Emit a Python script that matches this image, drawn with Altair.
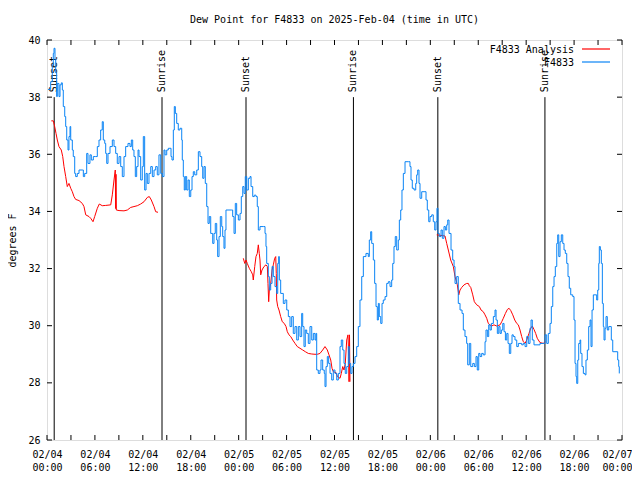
import altair as alt
import pandas as pd

# ---- data (hours since 2025-02-04 00:00 UTC, dew point in degrees F) ----
obs_hours = [0.13, 0.46, 0.66, 0.79, 0.88, 1.00, 1.09, 1.21, 1.29, 1.50, 1.63, 1.79, 1.92, 2.04, 2.22, 2.34, 2.47, 2.63, 2.75, 2.88,
             2.97, 3.17, 3.29, 3.47, 3.59, 3.79, 4.01, 4.42, 4.55, 4.72, 4.97, 5.13, 5.38, 5.55, 5.80, 6.10, 6.30, 6.51, 6.72, 6.92,
             7.05, 7.23, 7.35, 7.48, 7.64, 7.89, 8.18, 8.39, 8.60, 8.80, 9.02, 9.23, 9.43, 9.64, 9.85, 10.14, 10.39, 10.56, 10.73, 10.89,
             11.06, 11.23, 11.40, 11.52, 11.73, 11.93, 12.06, 12.23, 12.40, 12.56, 12.77, 12.99, 13.19, 13.40, 13.61, 13.81, 14.02, 14.24, 14.44, 14.65,
             14.78, 14.99, 15.19, 15.40, 15.53, 15.65, 15.82, 15.94, 16.07, 16.24, 16.44, 16.65, 16.87, 16.94, 17.07, 17.19, 17.32, 17.49, 17.66, 17.82,
             18.00, 18.16, 18.32, 18.50, 18.75, 18.95, 19.16, 19.37, 19.50, 19.66, 19.82, 20.00, 20.16, 20.32, 20.50, 20.75, 20.91, 21.07, 21.25, 21.37,
             21.54, 21.70, 21.88, 22.00, 22.16, 22.29, 22.41, 23.13, 23.25, 23.42, 23.58, 23.75, 23.96, 24.17, 24.33, 24.51, 24.67, 24.83, 25.01, 25.21,
             25.42, 25.55, 25.76, 25.96, 26.17, 26.33, 26.46, 26.67, 27.09, 27.30, 27.42, 27.51, 27.71, 27.84, 28.01, 28.18, 28.34, 28.55, 28.76, 28.89,
             29.01, 29.09, 29.26, 29.43, 29.59, 29.80, 30.02, 30.22, 30.43, 30.64, 30.84, 31.05, 31.27, 31.47, 31.68, 31.89, 32.02, 32.18, 32.34, 32.52,
             32.72, 32.93, 33.15, 33.35, 33.56, 33.68, 33.77, 33.97, 34.18, 34.31, 34.52, 34.72, 34.81, 34.94, 35.10, 35.27, 35.44, 35.65, 35.85, 36.06,
             36.28, 36.48, 36.69, 36.85, 37.03, 37.19, 37.35, 37.53, 37.73, 37.85, 38.03, 38.19, 38.36, 38.57, 38.78, 38.98, 39.19, 39.41, 39.61, 39.94,
             40.23, 40.36, 40.53, 40.66, 40.86, 41.03, 41.20, 41.36, 41.49, 41.61, 41.79, 41.95, 42.11, 42.33, 42.54, 42.74, 42.95, 43.16, 43.29, 43.45,
             43.61, 43.79, 43.99, 44.12, 44.29, 44.45, 44.62, 44.83, 45.24, 45.45, 45.58, 45.74, 45.96, 46.17, 46.29, 46.42, 46.58, 46.71, 46.92, 47.33,
             47.46, 47.62, 47.80, 47.96, 48.17, 48.37, 48.55, 48.71, 48.83, 48.96, 49.12, 49.34, 49.50, 49.71, 49.88, 50.05, 50.18, 50.34, 50.59, 50.80,
             50.97, 51.09, 51.30, 51.50, 51.72, 51.97, 52.13, 52.34, 52.55, 52.68, 52.88, 53.06, 53.31, 53.51, 53.72, 53.88, 54.06, 54.22, 54.43, 54.63,
             54.85, 54.97, 55.14, 55.31, 55.47, 55.64, 55.89, 56.10, 56.23, 56.39, 56.57, 56.73, 56.89, 57.07, 57.23, 57.40, 57.57, 57.73, 57.89, 58.07,
             58.23, 58.39, 58.60, 58.82, 59.02, 59.44, 59.64, 59.86, 60.07, 60.27, 60.48, 60.61, 60.77, 60.98, 61.73, 62.15, 62.36, 62.57, 62.77, 62.99,
             63.15, 63.33, 63.49, 63.65, 63.83, 63.95, 64.08, 64.24, 64.40, 64.58, 64.74, 64.90, 65.08, 65.24, 65.40, 65.58, 65.83, 65.99, 66.12, 66.24,
             66.33, 66.46, 66.58, 66.74, 66.83, 66.99, 67.16, 67.37, 67.49, 67.66, 67.83, 68.00, 68.12, 68.25, 68.41, 68.62, 68.83, 68.96, 69.09, 69.16,
             69.29, 69.41, 69.54, 69.66, 69.75, 69.88, 70.00, 70.16, 70.34, 70.50, 70.66, 70.84, 71.25, 71.46, 71.59, 71.66]
obs_dewpt = [38.27, 38.54, 39.13, 39.53, 39.71, 39.30, 38.85, 38.02, 38.48, 38.02, 38.43, 38.50, 38.25, 37.67, 37.32, 36.97, 36.50, 36.15, 36.62, 36.97,
             36.50, 36.15, 35.92, 35.33, 35.22, 35.33, 35.45, 35.45, 35.22, 35.33, 36.03, 35.68, 35.98, 35.80, 35.92, 35.92, 36.27, 36.50, 36.85, 37.14,
             36.50, 36.38, 36.03, 35.68, 36.03, 36.27, 36.50, 36.27, 36.03, 35.68, 35.92, 35.57, 35.22, 35.92, 36.27, 36.38, 36.27, 36.50, 36.15, 35.92,
             35.22, 35.57, 36.15, 35.92, 35.10, 35.57, 36.62, 34.75, 35.33, 34.98, 35.33, 35.57, 35.22, 35.45, 35.57, 35.28, 35.98, 35.33, 35.22, 36.15,
             35.98, 36.15, 36.21, 36.21, 35.92, 35.80, 36.85, 37.67, 37.43, 37.08, 36.85, 36.91, 36.50, 35.80, 35.22, 34.75, 35.22, 34.75, 35.10, 34.52,
             34.75, 35.22, 35.39, 35.28, 35.45, 36.09, 35.92, 35.57, 35.16, 35.57, 34.98, 34.17, 33.58, 33.82, 33.23, 32.88, 33.23, 33.58, 33.00, 32.42,
             33.12, 33.82, 33.47, 33.12, 32.71, 33.35, 34.05, 34.05, 33.82, 33.23, 34.28, 33.88, 33.70, 33.93, 34.52, 34.87, 34.63, 35.22, 34.75, 35.16,
             35.22, 34.87, 34.52, 34.57, 34.52, 34.17, 33.35, 33.47, 33.47, 33.23, 32.77, 32.18, 31.72, 31.25, 31.48, 32.07, 31.72, 31.37, 31.13, 32.18,
             32.42, 31.60, 31.13, 31.13, 30.78, 30.90, 30.55, 30.32, 29.97, 30.32, 29.73, 29.97, 29.50, 29.97, 29.62, 30.43, 29.97, 29.27, 29.85, 29.73,
             29.38, 29.97, 29.50, 29.73, 29.50, 29.73, 28.45, 28.33, 28.45, 28.80, 28.45, 28.33, 27.87, 28.57, 28.92, 28.68, 28.33, 28.10, 28.45, 28.33,
             28.10, 28.33, 29.27, 29.50, 29.15, 28.68, 28.33, 28.57, 29.27, 28.68, 28.33, 28.57, 28.68, 28.92, 29.27, 29.97, 30.90, 31.72, 32.42, 32.53,
             32.42, 33.00, 33.29, 32.88, 32.30, 31.48, 30.67, 30.20, 30.78, 30.32, 30.08, 30.78, 30.90, 31.02, 31.48, 31.54, 31.37, 31.60, 32.18, 32.77,
             33.12, 32.65, 33.00, 33.70, 34.05, 34.75, 35.33, 35.74, 35.74, 35.57, 35.10, 34.81, 34.75, 34.98, 35.28, 35.45, 34.98, 34.46, 34.69, 34.69,
             34.40, 34.05, 33.64, 33.82, 33.88, 33.64, 33.35, 33.64, 34.11, 33.23, 33.12, 33.35, 33.06, 33.47, 33.35, 33.53, 33.70, 33.23, 32.65, 32.30,
             32.07, 31.48, 31.72, 30.78, 30.55, 30.43, 29.85, 29.62, 29.38, 28.63, 29.38, 28.57, 28.68, 28.57, 28.92, 28.45, 29.03, 28.92, 29.03, 28.98,
             29.44, 29.85, 29.62, 30.03, 29.85, 30.08, 30.32, 30.55, 30.20, 29.73, 29.97, 29.73, 29.85, 30.08, 29.79, 29.50, 29.73, 29.38, 29.03, 29.38,
             29.68, 29.62, 29.50, 29.27, 29.38, 29.33, 29.38, 29.27, 29.62, 29.38, 29.91, 30.20, 29.50, 29.33, 29.38, 29.38, 29.68, 29.38, 29.73, 30.08,
             30.67, 31.37, 31.72, 32.07, 32.88, 33.18, 32.42, 32.94, 33.18, 32.88, 32.65, 32.53, 32.18, 31.72, 31.31, 31.08, 31.02, 30.20, 28.68, 28.22,
             27.98, 28.80, 29.38, 29.50, 29.03, 28.57, 28.33, 28.28, 28.80, 29.15, 29.97, 30.20, 29.27, 30.55, 31.08, 31.08, 30.90, 31.25, 32.18, 32.77,
             32.65, 32.18, 30.78, 29.97, 29.50, 29.91, 30.32, 29.85, 29.97, 29.97, 29.50, 29.09, 29.09, 28.80, 28.57, 28.33]

ana1_hours = [0.54, 0.79, 0.96, 1.13, 1.29, 1.50, 1.79, 1.97, 2.13, 2.34, 2.54, 2.75, 2.97, 3.17, 3.38, 3.59, 4.01, 4.42, 4.63, 4.85,
              5.26, 5.47, 5.76, 5.97, 6.30, 6.55, 6.92, 7.35, 7.98, 8.18, 8.39, 8.55, 8.60, 8.64, 8.68, 9.02, 9.64, 10.06, 10.48, 10.89,
              11.31, 11.73, 12.15, 12.56, 12.81, 13.06, 13.40, 13.61, 13.90]
ana1_dewpt = [37.17, 37.17, 36.97, 36.73, 36.50, 36.27, 36.15, 35.92, 35.57, 35.22, 34.87, 34.98, 34.81, 34.69, 34.52, 34.42, 34.38, 34.28, 34.17, 33.88,
              33.82, 33.76, 33.64, 33.82, 34.11, 34.26, 34.20, 34.21, 34.23, 34.58, 35.10, 35.45, 34.10, 35.30, 34.05, 34.03, 34.02, 34.05, 34.14, 34.17,
              34.20, 34.26, 34.34, 34.49, 34.52, 34.40, 34.17, 33.99, 33.97]

ana2_hours = [24.58, 24.76, 24.92, 25.08, 25.33, 25.58, 25.76, 25.83, 26.01, 26.17, 26.33, 26.46, 26.58, 26.67, 26.76, 26.92, 27.17, 27.42, 27.59, 27.67,
              27.76, 27.84, 28.01, 28.18, 28.34, 28.51, 28.64, 28.71, 28.76, 28.89, 29.05, 29.26, 29.46, 29.71, 29.93, 30.09, 30.30, 30.52, 30.77, 31.06,
              31.34, 31.68, 32.02, 32.35, 32.72, 33.15, 33.56, 33.85, 34.18, 34.52, 34.81, 35.10, 35.31, 35.53, 35.69, 35.85, 36.19, 36.36, 36.69, 36.85,
              37.03, 37.19, 37.35, 37.53, 37.69, 37.78, 37.82, 37.88, 37.94]
ana2_dewpt = [32.36, 32.18, 32.30, 32.18, 32.01, 31.89, 31.78, 31.60, 32.07, 32.42, 32.53, 32.83, 32.53, 32.30, 31.78, 31.95, 32.07, 32.13, 32.07, 31.48,
              30.84, 31.25, 31.48, 31.95, 32.13, 32.36, 32.42, 31.83, 30.90, 30.67, 30.55, 30.32, 30.14, 30.08, 29.97, 29.79, 29.68, 29.62, 29.50, 29.38,
              29.27, 29.21, 29.15, 29.09, 29.03, 29.01, 29.00, 29.00, 29.03, 29.15, 29.27, 29.15, 28.98, 28.80, 28.51, 28.39, 28.36, 28.22, 28.16, 28.33,
              28.57, 28.45, 28.68, 29.50, 29.68, 28.92, 28.04, 29.68, 28.04]

ana3_hours = [48.80, 49.84, 50.05, 50.25, 50.55, 50.88, 51.09, 51.38, 51.56, 51.72, 51.93, 52.22, 52.55, 52.76, 52.88, 53.06, 53.31, 53.51, 53.81, 54.14,
              54.35, 54.63, 54.85, 55.06, 55.26, 55.47, 55.68, 55.97, 56.31, 56.73, 56.94, 57.14, 57.40, 57.65, 57.86, 58.07, 58.32, 58.57, 58.82, 59.02,
              59.23, 59.44, 59.64, 59.86, 60.07, 60.35, 60.57, 60.77, 60.98, 61.19, 61.39, 61.73, 62.15, 62.36]
ana3_dewpt = [33.18, 33.14, 32.88, 32.65, 32.30, 32.07, 31.72, 31.43, 31.08, 31.25, 31.34, 31.43, 31.48, 31.48, 31.40, 31.34, 31.08, 30.84, 30.73, 30.67,
              30.55, 30.49, 30.38, 30.26, 30.08, 30.03, 29.99, 30.03, 29.99, 30.03, 30.14, 30.26, 30.43, 30.57, 30.61, 30.53, 30.38, 30.20, 30.08, 30.03,
              29.85, 29.62, 29.44, 29.38, 29.50, 29.73, 29.91, 29.99, 29.87, 29.73, 29.56, 29.41, 29.38, 29.44]

event_hours = [0.90, 14.40, 24.92, 38.37, 48.94, 62.35]
event_labels = ["Sunset", "Sunrise", "Sunset", "Sunrise", "Sunset", "Sunrise"]
event_top = 38
y_bottom = 26

x_tick_hours = list(range(0, 73, 3))
x_label_hours = list(range(0, 73, 6))
y_tick_values = list(range(26, 41, 2))

series_names = ["F4833 Analysis", "F4833"]
RED, BLUE = "#ff0000", "#0a84f5"

# ---- tables ----
obs_df = pd.DataFrame({"h": obs_hours, "v": obs_dewpt})
ana_df = pd.concat([
    pd.DataFrame({"h": ana1_hours, "v": ana1_dewpt, "seg": 1}),
    pd.DataFrame({"h": ana2_hours, "v": ana2_dewpt, "seg": 2}),
    pd.DataFrame({"h": ana3_hours, "v": ana3_dewpt, "seg": 3}),
], ignore_index=True)
ev_df = pd.DataFrame({"h": event_hours, "label": event_labels})
xt_df = pd.DataFrame({"h": x_tick_hours})
yt_df = pd.DataFrame({"v": y_tick_values})

FONT = "DejaVu Sans Mono"
W, H = 575, 400

xaxis = alt.Axis(values=x_label_hours, title=None, ticks=False, domain=False, grid=False,
                 labelFont=FONT, labelFontSize=10, labelColor="black", labelPadding=9,
                 labelLineHeight=13, labelFlush=False, labelOverlap=False,
                 labelOffset={"condition": {"test": "datum.value == 72", "value": -5}, "value": 0},
                 labelExpr="['02/0' + (4 + floor(datum.value / 24)), (datum.value % 24 < 10 ? '0' : '') + (datum.value % 24) + ':00']")
yaxis = alt.Axis(values=y_tick_values, title="degrees F", ticks=False, domain=False, grid=False,
                 labelFont=FONT, labelFontSize=10, labelColor="black", labelPadding=7,
                 labelFlush=False, labelOverlap=False,
                 titleFont=FONT, titleFontSize=10, titleFontWeight="normal", titleColor="black",
                 titleX=-35, titleY=H / 2, titleAngle=270, titleAlign="center", titleBaseline="middle")

xs = alt.Scale(domain=[0, 72], nice=False, zero=False)
ys = alt.Scale(domain=[26, 40], nice=False, zero=False)
X = alt.X("h:Q", scale=xs, axis=xaxis)
Y = alt.Y("v:Q", scale=ys, axis=yaxis)

ev_rules = alt.Chart(ev_df).mark_rule(color="black", strokeWidth=1).encode(
    x=X, y=alt.datum(event_top, scale=ys, axis=yaxis), y2=alt.datum(y_bottom))
ev_text = alt.Chart(ev_df).mark_text(angle=270, align="left", baseline="middle", dx=5,
                                     font=FONT, fontSize=10, color="black").encode(
    x=X, y=alt.datum(event_top, scale=ys, axis=yaxis), text="label:N")

red = alt.Chart(ana_df).mark_line(color=RED, strokeWidth=1).encode(
    x=X, y=Y, detail="seg:N", order="h:Q")
blue = alt.Chart(obs_df).mark_line(color=BLUE, strokeWidth=1, interpolate="step-after").encode(
    x=X, y=Y, order="h:Q")

xt_top = alt.Chart(xt_df).mark_rule(color="black", strokeWidth=1).encode(
    x=X, y=alt.value(0), y2=alt.value(5))
xt_bot = alt.Chart(xt_df).mark_rule(color="black", strokeWidth=1).encode(
    x=X, y=alt.value(H - 5), y2=alt.value(H))
yt_left = alt.Chart(yt_df).mark_rule(color="black", strokeWidth=1).encode(
    y=Y, x=alt.value(0), x2=alt.value(5))
yt_right = alt.Chart(yt_df).mark_rule(color="black", strokeWidth=1).encode(
    y=Y, x=alt.value(W - 5), x2=alt.value(W))

leg1 = pd.DataFrame({"name": [series_names[0]]})
leg2 = pd.DataFrame({"name": [series_names[1]]})
leg_t1 = alt.Chart(leg1).mark_text(align="right", baseline="middle", font=FONT, fontSize=10,
                                   color="black").encode(text="name:N", x=alt.value(527), y=alt.value(9.5))
leg_t2 = alt.Chart(leg2).mark_text(align="right", baseline="middle", font=FONT, fontSize=10,
                                   color="black").encode(text="name:N", x=alt.value(527), y=alt.value(22.5))
leg_l1 = alt.Chart(leg1).mark_rule(strokeWidth=1.2).encode(
    x=alt.value(535), x2=alt.value(563), y=alt.value(9), color=alt.value(RED))
leg_l2 = alt.Chart(leg2).mark_rule(strokeWidth=1.2).encode(
    x=alt.value(535), x2=alt.value(563), y=alt.value(22), color=alt.value(BLUE))

chart = alt.layer(
    ev_rules, ev_text, red, blue, xt_top, xt_bot, yt_left, yt_right,
    leg_t1, leg_t2, leg_l1, leg_l2
).properties(
    width=W, height=H,
    title=alt.TitleParams("Dew Point for F4833 on 2025-Feb-04 (time in UTC)", font=FONT, fontSize=10,
                          fontWeight="normal", color="black", anchor="middle", offset=10),
    autosize=alt.AutoSizeParams(type="none"),
    padding={"left": 39, "top": 32, "right": 10, "bottom": 32},
).configure_view(stroke="black", strokeWidth=1).configure(background="white")

chart.save("out.html", embed_options={"renderer": "svg", "actions": False})
